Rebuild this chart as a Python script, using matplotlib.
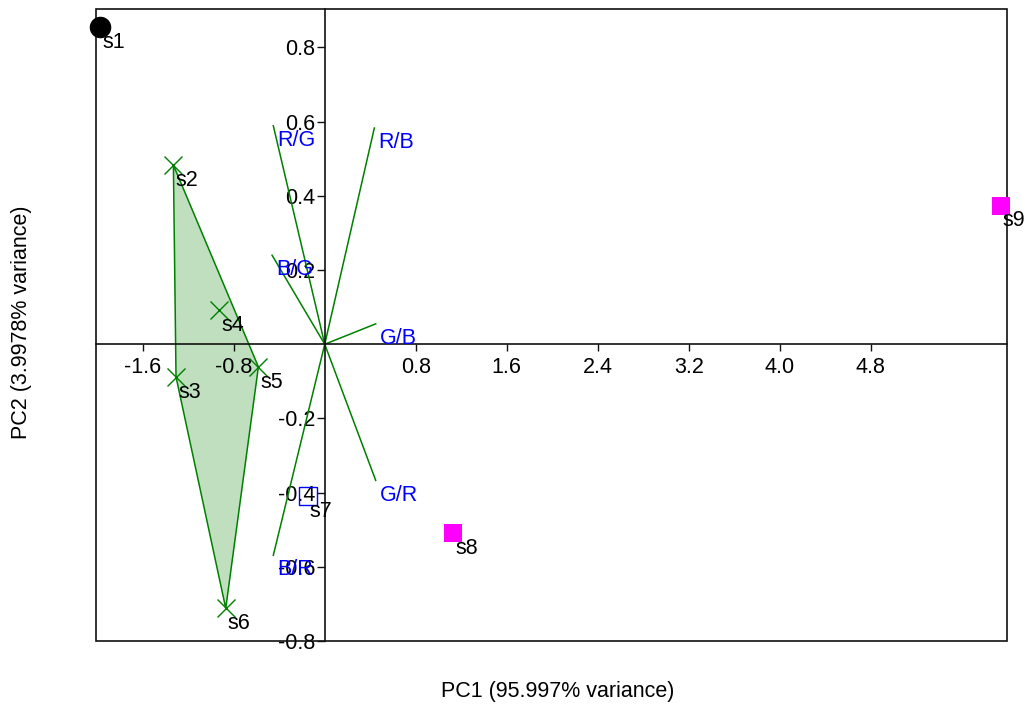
import matplotlib.pyplot as plt
from matplotlib.patches import Rectangle, Polygon

plt.rcParams['font.family'] = ['Liberation Sans', 'DejaVu Sans']

# PCA scores of the samples
sample_names = ['s1', 's2', 's3', 's4', 's5', 's6', 's7', 's8', 's9']
pc1 = [-1.975, -1.330, -1.307, -0.926, -0.583, -0.870, -0.149, 1.127, 5.941]
pc2 = [0.856, 0.483, -0.088, 0.092, -0.061, -0.712, -0.409, -0.509, 0.374]
groups = [0, 1, 1, 1, 1, 1, 2, 3, 3]

# loadings of the variables (biplot vectors)
var_names = ['R/G', 'R/B', 'B/G', 'G/B', 'G/R', 'B/R']
load_pc1 = [-0.452, 0.436, -0.463, 0.448, 0.448, -0.452]
load_pc2 = [0.589, 0.583, 0.240, 0.055, -0.367, -0.569]

xticks = [-1.6, -0.8, 0.8, 1.6, 2.4, 3.2, 4.0, 4.8]
yticks = [0.8, 0.6, 0.4, 0.2, -0.2, -0.4, -0.6, -0.8]

FS = 15.5
GREEN = '#008000'
group_style = {
    0: dict(marker='o', color='black', mfc='black', ms=14.5),
    1: dict(marker='x', color=GREEN, mfc=GREEN, ms=13.5, mew=1.0),
    2: dict(marker='s', color='#0000ff', mfc='none', ms=13.5, mew=1.0),
    3: dict(marker='s', color='#ff00ff', mfc='#ff00ff', ms=13.5, mew=0),
}


def convex_hull(pts):
    pts = sorted(set(pts))
    if len(pts) < 3:
        return pts

    def cross(o, a, b):
        return (a[0] - o[0]) * (b[1] - o[1]) - (a[1] - o[1]) * (b[0] - o[0])

    lower, upper = [], []
    for p in pts:
        while len(lower) >= 2 and cross(lower[-2], lower[-1], p) <= 0:
            lower.pop()
        lower.append(p)
    for p in reversed(pts):
        while len(upper) >= 2 and cross(upper[-2], upper[-1], p) <= 0:
            upper.pop()
        upper.append(p)
    return lower[:-1] + upper[:-1]


fig = plt.figure(figsize=(10.27, 7.04), dpi=100)
ax = fig.add_axes([0.0935, 0.0895, 0.8867, 0.8973])
ax.set_xlim(-2.01, 5.993)
ax.set_ylim(-0.8, 0.903)

# axes crossing at the origin, plus an outer frame
for side in ['top', 'right']:
    ax.spines[side].set_visible(False)
for side in ['left', 'bottom']:
    ax.spines[side].set_position(('data', 0))
    ax.spines[side].set_linewidth(1.2)
    ax.spines[side].set_color('#111111')
ax.add_patch(Rectangle((0, 0), 1, 1, transform=ax.transAxes, fill=False,
                       lw=1.2, ec='#111111', clip_on=False, zorder=3))

ax.set_xticks(xticks)
ax.set_xticklabels([f'{t:.1f}' for t in xticks])
ax.set_yticks(yticks)
ax.set_yticklabels([f'{t:.1f}' for t in yticks])
ax.tick_params(axis='x', direction='out', length=5, width=1, pad=4,
               labelsize=FS, color='#111111')
ax.tick_params(axis='y', direction='out', length=6, width=1, pad=1,
               labelsize=FS, color='#111111')

# convex hull of group 1
grp_pts = [(x, y) for x, y, g in zip(pc1, pc2, groups) if g == 1]
hull = convex_hull(grp_pts)
ax.add_patch(Polygon(hull, closed=True, fc=GREEN, alpha=0.25, ec='none', zorder=1))
ax.add_patch(Polygon(hull, closed=True, fill=False, ec=GREEN, lw=1.1, zorder=1.5))

# biplot vectors
for name, lx, ly in zip(var_names, load_pc1, load_pc2):
    ax.plot([0, lx], [0, ly], color=GREEN, lw=1.1, zorder=2)
    ax.annotate(name, (lx, ly), xytext=(3, -3), textcoords='offset points',
                ha='left', va='top', color='#0000ff', fontsize=FS, zorder=4)

# sample points
for name, x, y, g in zip(sample_names, pc1, pc2, groups):
    ax.plot([x], [y], ls='none', clip_on=False, zorder=3, **group_style[g])
    ax.annotate(name, (x, y), xytext=(1.5, -3.5), textcoords='offset points',
                ha='left', va='top', color='black', fontsize=FS,
                annotation_clip=False, zorder=4)

fig.text(558 / 1027, 1 - 692 / 704, 'PC1 (95.997% variance)', ha='center',
         va='center', fontsize=FS)
fig.text(22 / 1027, 1 - 322 / 704, 'PC2 (3.9978% variance)', ha='center',
         va='center', rotation=90, fontsize=FS)

fig.savefig('out.png', dpi=100)
